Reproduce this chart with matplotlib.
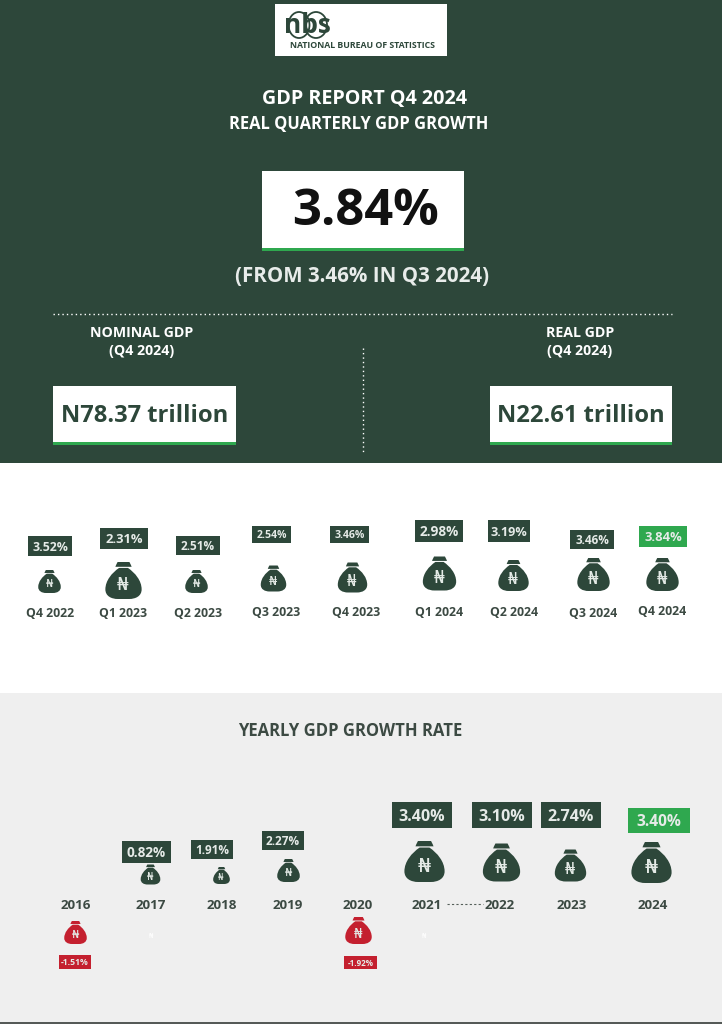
import matplotlib
matplotlib.use("Agg")
import matplotlib.pyplot as plt
from matplotlib.path import Path
from matplotlib.patches import Rectangle, Ellipse
from matplotlib.markers import MarkerStyle

# ---------- data ----------
quarters = ["Q4 2022", "Q1 2023", "Q2 2023", "Q3 2023", "Q4 2023",
            "Q1 2024", "Q2 2024", "Q3 2024", "Q4 2024"]
quarter_growth = [3.52, 2.31, 2.51, 2.54, 3.46, 2.98, 3.19, 3.46, 3.84]
years = ["2016", "2017", "2018", "2019", "2020", "2021", "2022", "2023", "2024"]
year_growth = [-1.51, 0.82, 1.91, 2.27, -1.92, 3.40, 3.10, 2.74, 3.40]
headline_growth = 3.84
previous_growth = 3.46
nominal_gdp = 78.37
real_gdp = 22.61

# ---------- layout (reference pixels) ----------
q_label_x = [50, 123, 198, 276, 356, 439, 514, 593, 662]
q_label_y = [612, 612, 612, 611, 611, 611, 611, 612, 610]
q_box = [(28, 72, 536, 556), (100, 148, 528, 549), (176, 220, 536, 555),
         (252, 291, 526, 543), (330, 369, 526, 543), (415, 463, 520, 542),
         (488, 530, 520, 542), (570, 614, 530, 549), (639, 687, 526, 547)]
q_bag = [(49, 581, 23), (123, 580, 37), (196, 581, 23), (273, 578, 26), (352, 577, 30),
         (439, 573, 34), (513, 575, 31), (593, 574, 33), (662, 574, 33)]
y_label_x = [76, 151, 222, 288, 358, 427, 500, 572, 653]
y_label_y = 904
y_box = [(59, 91, 955, 969), (122, 171, 841, 863), (191, 233, 840, 859),
         (262, 304, 831, 850), (344, 377, 956, 969), (392, 452, 802, 828),
         (472, 532, 802, 828), (541, 601, 802, 828), (628, 690, 808, 833)]
y_bag = [(75, 932, 23), (150, 874, 20), (221, 875, 17), (288, 870, 23), (358, 930, 27),
         (424, 861, 41), (501, 862, 38), (570, 865, 32), (651, 862, 41)]

DARK = "#2d473a"
GREEN = "#2fa84f"
RED = "#c4202f"
FONT = "Open Sans"
PX = 0.72  # points per pixel at 100 dpi

fig = plt.figure(figsize=(7.22, 10.24), dpi=100, facecolor="white")
ax = fig.add_axes([0, 0, 1, 1])
ax.set_xlim(0, 722)
ax.set_ylim(1024, 0)
ax.axis("off")


def rect(x0, x1, y0, y1, color, z=1):
    ax.add_patch(Rectangle((x0, y0), x1 - x0, y1 - y0, facecolor=color, edgecolor="none", zorder=z))


def label(x, y, s, size, color="white", weight="bold", z=5, **kw):
    # Open Sans sits slightly high with va="center"; nudge down in proportion to size
    ax.text(x, y + size * 0.13, s, fontsize=size, color=color, fontweight=weight, family=FONT,
            ha="center", va="center", zorder=z, **kw)


# money bag marker (cap + body)
M, L, C4 = Path.MOVETO, Path.LINETO, Path.CURVE4
bag_verts = [(-0.32, 1.0), (0.32, 1.0), (0.40, 0.84), (0.44, 0.74), (-0.44, 0.74), (-0.40, 0.84), (-0.32, 1.0),
             (-0.24, 0.68), (0.24, 0.68),
             (0.62, 0.42), (0.98, 0.0), (0.98, -0.48),
             (0.98, -0.84), (0.66, -1.0), (0.30, -1.0),
             (-0.30, -1.0),
             (-0.66, -1.0), (-0.98, -0.84), (-0.98, -0.48),
             (-0.98, 0.0), (-0.62, 0.42), (-0.24, 0.68)]
bag_codes = [M, L, L, L, L, L, Path.CLOSEPOLY,
             M, L, C4, C4, C4, C4, C4, C4, L, C4, C4, C4, C4, C4, C4]
bag_marker = MarkerStyle(Path(bag_verts, bag_codes))


def bag(x, y, h, color):
    ax.scatter([x], [y], s=(h * PX) ** 2, marker=bag_marker, c=color, linewidths=0, zorder=3)
    ax.text(x, y + h * 0.14, "\u20a6", fontsize=h * 0.5 * PX, color="#e4eae6", family="DejaVu Sans",
            ha="center", va="center", zorder=4)


def value_box(b, text, color):
    x0, x1, y0, y1 = b
    rect(x0, x1, y0, y1, color, z=2)
    size = min((y1 - y0) * 0.62, (x1 - x0) * 0.30) * PX
    label((x0 + x1) / 2, (y0 + y1) / 2, text, size, color="#e6ebe8")


# ---------- backgrounds ----------
rect(0, 722, 0, 463, DARK, z=0)
rect(0, 722, 693, 1024, "#efefef", z=0)
rect(0, 722, 1022, 1024, "#555a57", z=0)

# ---------- logo ----------
rect(275, 447, 4, 56, "white")
for ex, ew in [(299, 21), (316, 22)]:
    ax.add_patch(Ellipse((ex, 25), ew, 26, fill=False, edgecolor=DARK, linewidth=1.3, zorder=3))
label(307, 23, "nbs", 19, color=DARK, weight="bold")
label(362, 45, "NATIONAL BUREAU OF STATISTICS", 6.3, color=DARK)

# ---------- header ----------
label(364, 97, "GDP REPORT Q4 2024", 14.2)
label(359, 122, "REAL QUARTERLY GDP GROWTH", 11.9)
rect(262, 464, 171, 251, "white")
rect(262, 464, 248, 251, GREEN, z=2)
label(365, 207, f"{headline_growth:.2f}%", 36.5, color="#111111")
label(362, 275, f"(FROM {previous_growth:.2f}% IN Q3 2024)", 14.8, color="#e8ecea")

ax.plot([53, 672], [314, 314], color="white", lw=1.0, ls=(0, (1, 2.2)), zorder=2)
ax.plot([363, 363], [348, 452], color="white", lw=1.0, ls=(0, (1, 2.2)), zorder=2)

label(142, 332, "NOMINAL GDP", 10.2)
label(142, 350, "(Q4 2024)", 10.2)
label(580, 332, "REAL GDP", 10.2)
label(580, 350, "(Q4 2024)", 10.2)

for x0, x1, v in [(53, 236, nominal_gdp), (490, 672, real_gdp)]:
    rect(x0, x1, 386, 445, "white")
    rect(x0, x1, 442, 445, GREEN, z=2)
    label((x0 + x1) / 2, 414, f"N{v:.2f} trillion", 17.1, color=DARK)

# ---------- quarterly row ----------
for i, (name, v) in enumerate(zip(quarters, quarter_growth)):
    value_box(q_box[i], f"{v:.2f}%", GREEN if i == len(quarters) - 1 else DARK)
    bag(*q_bag[i], DARK)
    label(q_label_x[i], q_label_y[i], name, 8.8, color="#3c4a43")

# ---------- yearly row ----------
label(350, 729, "YEARLY GDP GROWTH RATE", 12.0, color="#3c4a43")
for i, (name, v) in enumerate(zip(years, year_growth)):
    colour = RED if v < 0 else (GREEN if i == len(years) - 1 else DARK)
    value_box(y_box[i], f"{v:.2f}%", colour)
    bag(*y_bag[i], RED if v < 0 else DARK)
    label(y_label_x[i], y_label_y, name, 9.6, color="#3c4a43")

ax.plot([447, 483], [904, 904], color="#555f5a", lw=0.8, ls=(0, (2, 2)), zorder=2)
for sx in (151, 424):
    ax.text(sx, 936, "\u20a6", fontsize=5, color="white", family="DejaVu Sans",
            ha="center", va="center", zorder=2)

fig.savefig("out.png", dpi=100, facecolor=fig.get_facecolor())
